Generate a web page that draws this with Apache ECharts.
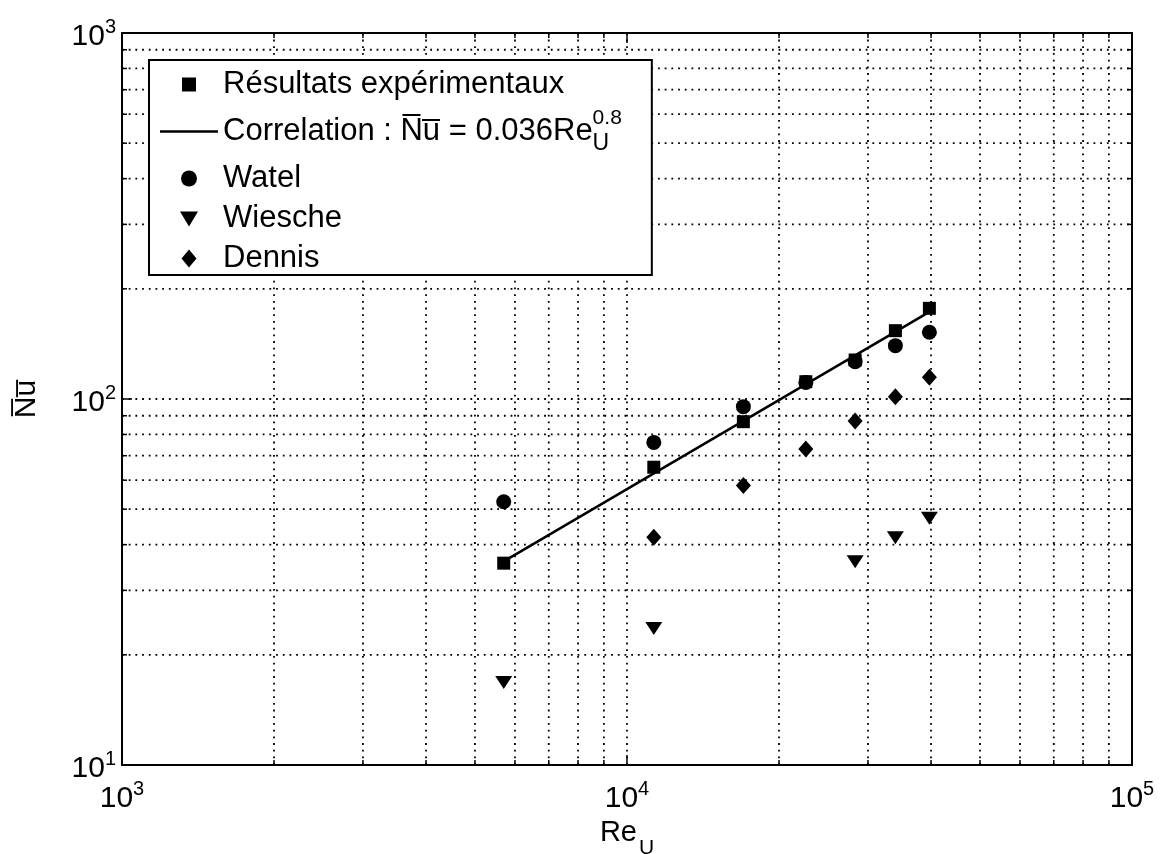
<!DOCTYPE html>
<html>
<head>
<meta charset="utf-8">
<script src="https://cdn.jsdelivr.net/npm/echarts@6/dist/echarts.min.js"></script>
<style>html,body{margin:0;padding:0;background:#fff;}#c{width:1161px;height:854px;}</style>
</head>
<body>
<div id="c"></div>
<script>
// ---- data ----
const reExp = [5700, 11300, 17000, 22600, 28300, 34000, 39700];
const nuExp = [35.6, 65.1, 86.7, 111.5, 127.8, 153.7, 176.9];
const reCorr = [5700, 39700];
const nuCorr = [36, 173];
const reWatel = [5700, 11300, 17000, 22600, 28300, 34000, 39700];
const nuWatel = [52.4, 76.1, 95.3, 111, 126.5, 139.9, 152.2];
const reWiesche = [5700, 11300, 28300, 34000, 39700];
const nuWiesche = [16.8, 23.6, 35.9, 41.8, 47.2];
const reDennis = [11300, 17000, 22600, 28300, 34000, 39700];
const nuDennis = [41.9, 58.0, 73.0, 87.1, 101.5, 114.7];
const xGridVals = [2000,3000,4000,5000,6000,7000,8000,9000,10000,20000,30000,40000,50000,60000,70000,80000,90000];
const yGridVals = [20,30,40,50,60,70,80,90,100,200,300,400,500,600,700,800,900];
const xRange = [1000, 100000];
const yRange = [10, 1000];
const seriesNames = ['Résultats expérimentaux', 'Correlation', 'Watel', 'Wiesche', 'Dennis'];

const FONT = 'Liberation Sans, Arial, sans-serif';
const zip = (a, b) => a.map((v, i) => [v, b[i]]);
const expLabel = v => '{b|10}{s|' + Math.round(Math.log10(v)) + '}';
const labelRich = {
  b: {fontSize: 30, fontFamily: FONT, color: '#000', lineHeight: 40, verticalAlign: 'middle'},
  s: {fontSize: 20, fontFamily: FONT, color: '#000', lineHeight: 24, verticalAlign: 'top'}
};
const isMajor = v => Math.abs(Math.log10(v) - Math.round(Math.log10(v))) < 1e-9;

const dotted = {stroke: '#000', lineWidth: 1.8, lineDash: [1.8, 4.9]};
function gridItemX(params, api) {
  const v = api.value(0);
  const p1 = api.coord([v, yRange[0]]);
  const p2 = api.coord([v, yRange[1]]);
  const L = isMajor(v) ? 10 : 5;
  return {type: 'group', children: [
    {type: 'line', shape: {x1: p1[0], y1: p1[1], x2: p2[0], y2: p2[1]}, style: dotted},
    {type: 'line', shape: {x1: p1[0], y1: p1[1], x2: p1[0], y2: p1[1] - L}, style: {stroke: '#000', lineWidth: 1.5}},
    {type: 'line', shape: {x1: p2[0], y1: p2[1], x2: p2[0], y2: p2[1] + L}, style: {stroke: '#000', lineWidth: 1.5}}
  ]};
}
function gridItemY(params, api) {
  const v = api.value(1);
  const p1 = api.coord([xRange[0], v]);
  const p2 = api.coord([xRange[1], v]);
  const L = isMajor(v) ? 10 : 5;
  return {type: 'group', children: [
    {type: 'line', shape: {x1: p1[0], y1: p1[1], x2: p2[0], y2: p2[1]}, style: dotted},
    {type: 'line', shape: {x1: p1[0], y1: p1[1], x2: p1[0] + L, y2: p1[1]}, style: {stroke: '#000', lineWidth: 1.5}},
    {type: 'line', shape: {x1: p2[0], y1: p2[1], x2: p2[0] - L, y2: p2[1]}, style: {stroke: '#000', lineWidth: 1.5}}
  ]};
}

// legend icons: the leading moves fix an 18x18 frame so each marker keeps its own size
const legendIcons = {
  'Résultats expérimentaux': 'path://M0,0M18,18M2,2h14v14h-14z',
  'Correlation': 'path://M0,0h58v2.4h-58z',
  'Watel': 'path://M0,0M18,18M1,9a8,8 0 1,0 16,0a8,8 0 1,0 -16,0z',
  'Wiesche': 'path://M0,0M18,18M0,2h18l-9,15z',
  'Dennis': 'path://M0,0M18,18M9,0l7.5,9l-7.5,9l-7.5,-9z'
};

const chart = echarts.init(document.getElementById('c'));
const axisCommon = {
  type: 'log', logBase: 10,
  axisLine: {show: true, lineStyle: {color: '#000', width: 2}},
  axisTick: {show: false},
  splitLine: {show: false},
  minorTick: {show: false}, minorSplitLine: {show: false}
};
chart.setOption({
  animation: false,
  backgroundColor: '#fff',
  textStyle: {fontFamily: FONT},
  grid: {left: 122, right: 29, top: 33, bottom: 89, containLabel: false, outerBoundsMode: 'none'},
  xAxis: [
    Object.assign({}, axisCommon, {
      min: xRange[0], max: xRange[1], position: 'bottom',
      axisLabel: {formatter: expLabel, rich: labelRich, margin: 14},
      name: '{r|Re}{u|U}', nameLocation: 'middle', nameGap: 50,
      nameTextStyle: {rich: {
        r: {fontSize: 29, fontFamily: FONT, color: '#000', lineHeight: 40, verticalAlign: 'top'},
        u: {fontSize: 21, fontFamily: FONT, color: '#000', lineHeight: 40, verticalAlign: 'bottom', padding: [0, 0, 0, 2]}
      }}
    }),
    Object.assign({}, axisCommon, {min: xRange[0], max: xRange[1], position: 'top', axisLabel: {show: false}})
  ],
  yAxis: [
    Object.assign({}, axisCommon, {
      min: yRange[0], max: yRange[1], position: 'left',
      axisLabel: {formatter: expLabel, rich: labelRich, margin: 6, padding: [8, 0, 0, 0]},
      name: 'N\u0305u\u0305', nameLocation: 'middle', nameRotate: 90, nameGap: 80,
      nameTextStyle: {fontSize: 30, fontFamily: FONT, color: '#000'}
    }),
    Object.assign({}, axisCommon, {min: yRange[0], max: yRange[1], position: 'right', axisLabel: {show: false}})
  ],
  legend: {
    orient: 'vertical', left: 149, top: 60,
    data: seriesNames.map(n => ({name: n, icon: legendIcons[n]})),
    symbolKeepAspect: true,
    itemWidth: 58, itemHeight: 18, itemGap: 7,
    padding: [8, 30, 0, 11],
    borderColor: '#000', borderWidth: 2, backgroundColor: '#fff',
    borderRadius: 0,
    selectedMode: false,
    itemStyle: {color: '#000', opacity: 1},
    textStyle: {fontSize: 31, fontFamily: FONT, color: '#000', lineHeight: 33,
      rich: {
        t: {fontSize: 31, fontFamily: FONT, color: '#000', lineHeight: 47, verticalAlign: 'middle'},
        sp: {fontSize: 21, fontFamily: FONT, color: '#000', lineHeight: 30, verticalAlign: 'top', width: 0},
        sb: {fontSize: 23, fontFamily: FONT, color: '#000', lineHeight: 28, verticalAlign: 'bottom'}
      }},
    formatter: function (name) {
      if (name === 'Correlation') return '{t|Correlation : N\u0305u\u0305 = 0.036Re}{sp|0.8}{sb|U}';
      return name;
    }
  },
  series: [
    {type: 'custom', name: 'gx', xAxisIndex: 0, yAxisIndex: 0, renderItem: gridItemX, silent: true, z: 1,
      data: xGridVals.map(v => [v, yRange[0]]), encode: {x: 0, y: 1}},
    {type: 'custom', name: 'gy', xAxisIndex: 0, yAxisIndex: 0, renderItem: gridItemY, silent: true, z: 1,
      data: yGridVals.map(v => [xRange[0], v]), encode: {x: 0, y: 1}},
    {type: 'line', name: 'Correlation', data: zip(reCorr, nuCorr), symbol: 'none', z: 3,
      lineStyle: {color: '#000', width: 2.5}, itemStyle: {color: '#000'}},
    {type: 'scatter', name: 'Résultats expérimentaux', data: zip(reExp, nuExp), symbol: 'rect', symbolSize: 13, z: 4,
      itemStyle: {color: '#000', opacity: 1}},
    {type: 'scatter', name: 'Watel', data: zip(reWatel, nuWatel), symbol: 'circle', symbolSize: 15, z: 4,
      itemStyle: {color: '#000', opacity: 1}},
    {type: 'scatter', name: 'Wiesche', data: zip(reWiesche, nuWiesche), symbol: 'triangle', symbolRotate: 180, symbolSize: [17, 13], z: 4,
      itemStyle: {color: '#000', opacity: 1}},
    {type: 'scatter', name: 'Dennis', data: zip(reDennis, nuDennis), symbol: 'diamond', symbolSize: [15, 17], z: 4,
      itemStyle: {color: '#000', opacity: 1}}
  ]
});
</script>
</body>
</html>
